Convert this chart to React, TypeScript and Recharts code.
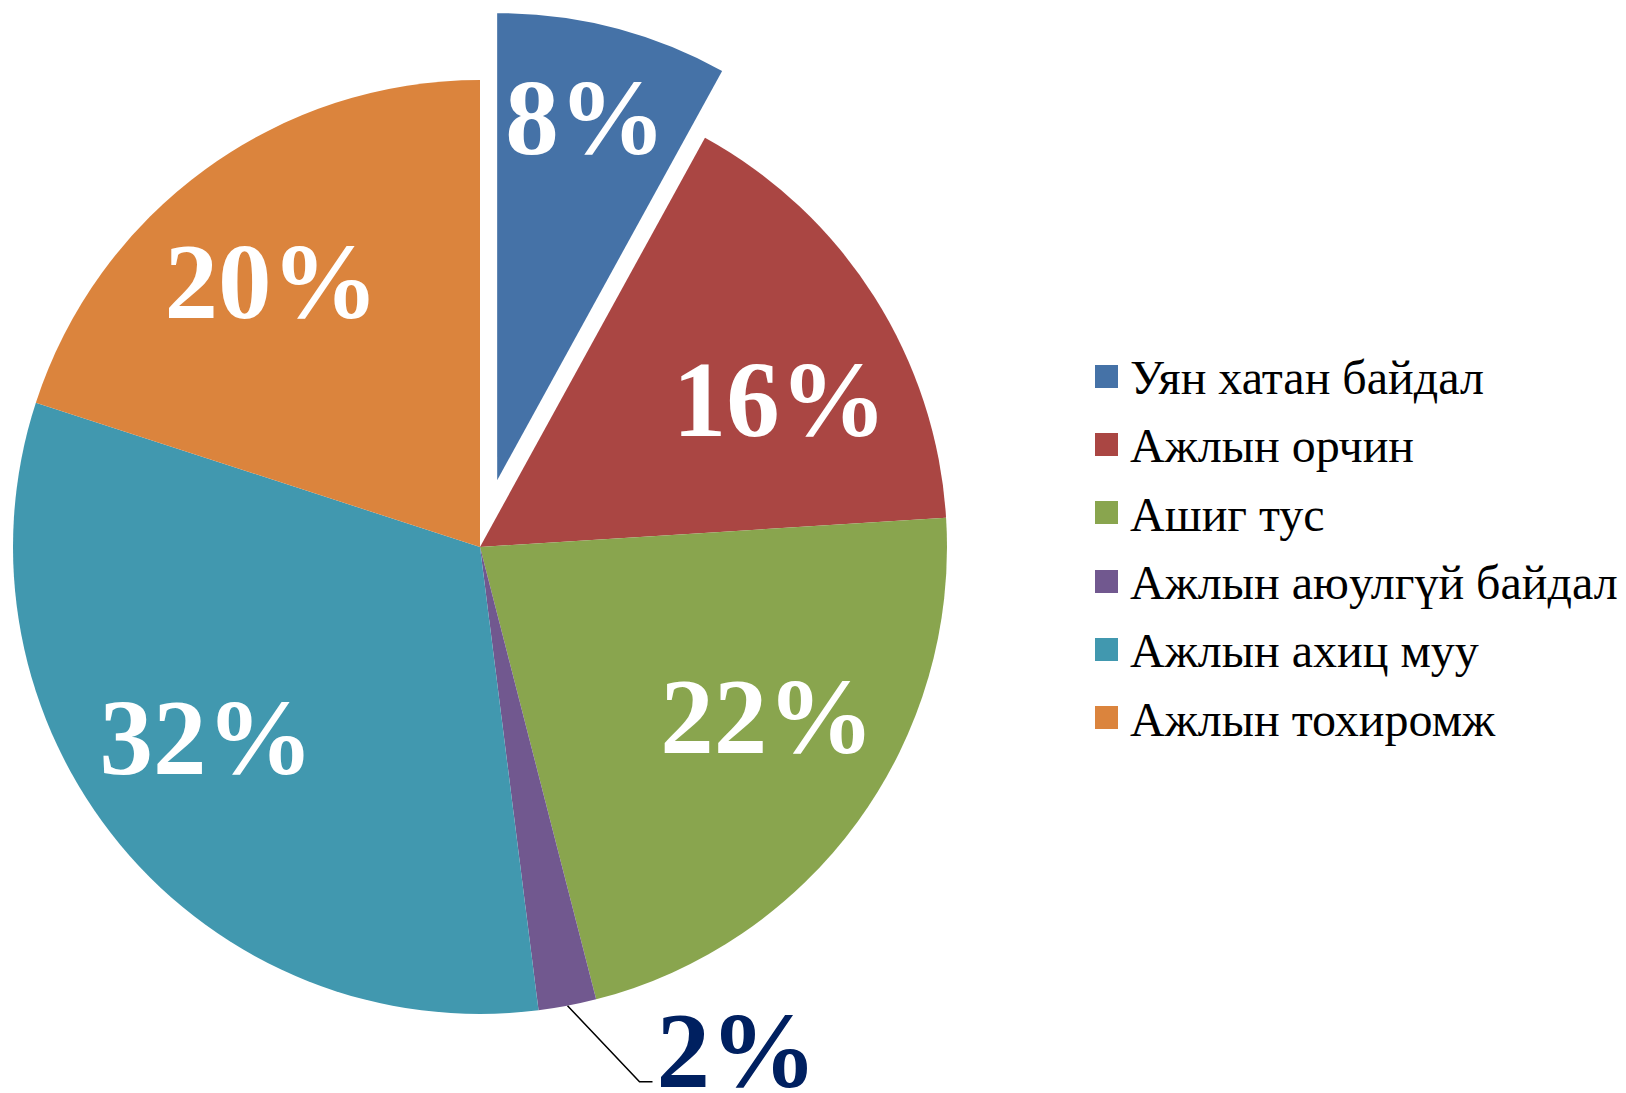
import React from 'react';
import { PieChart, Pie, Cell, Legend } from 'recharts';

const categories = [
  'Уян хатан байдал',
  'Ажлын орчин',
  'Ашиг тус',
  'Ажлын аюулгүй байдал',
  'Ажлын ахиц муу',
  'Ажлын тохиромж',
];
const shares = [8, 16, 22, 2, 32, 20];
const colors = ['#4572A7', '#AA4643', '#89A54E', '#71588F', '#4198AF', '#DB843D'];

const data = categories.map((name, i) => ({ name, value: shares[i] }));

const W = 1626;
const H = 1093;
const CX = 480;
const CY = 547;
const R = 467;
const EXPLODE = 69;
const FONT = "'Liberation Serif', 'Times New Roman', serif";
const RAD = Math.PI / 180;
const LABEL_SIZE = 107;

// the first slice is pulled out along its middle direction
const total = shares.reduce((a, b) => a + b, 0);
const firstMid = ((shares[0] / total) * 360) / 2;
const CX2 = CX + EXPLODE * Math.sin(firstMid * RAD);
const CY2 = CY - EXPLODE * Math.cos(firstMid * RAD);

const renderLabel = (explodedPie: boolean) => (props: any) => {
  const { cx, cy, midAngle, outerRadius, index, value } = props;
  if (explodedPie !== (index === 0)) return null;
  const c = Math.cos(midAngle * RAD);
  const s = Math.sin(midAngle * RAD);

  if (value < 5) {
    // small slice: outside label with leader line
    const ex = cx + outerRadius * c;
    const ey = cy - outerRadius * s;
    return (
      <g>
        <polyline
          points={`${ex},${ey} ${ex + 72},${ey + 76} ${ex + 85},${ey + 76}`}
          fill="none"
          stroke="#000"
          strokeWidth={1.5}
        />
        <text x={ex + 89} y={ey + 81} fill="#002060" fontSize={LABEL_SIZE} fontWeight="bold" fontFamily={FONT} textAnchor="start">
          {`${value}%`}
        </text>
      </g>
    );
  }

  const x = cx + outerRadius * 0.76 * c;
  const yOff = index === 0 ? outerRadius * 0.8 * Math.abs(s) : (0.925 * Math.abs(s) - 0.18) * outerRadius;
  const y = cy - Math.sign(s) * yOff;
  return (
    <text x={x} y={y + 36} fill="#fff" fontSize={LABEL_SIZE} fontWeight="bold" fontFamily={FONT} textAnchor="middle">
      {`${value}%`}
    </text>
  );
};

const LegendBox = () => (
  <div style={{ fontFamily: FONT, fontSize: 48, color: '#000' }}>
    {categories.map((name, i) => (
      <div key={name} style={{ display: 'flex', alignItems: 'center', height: 68.3, whiteSpace: 'nowrap' }}>
        <span style={{ width: 23, height: 23, background: colors[i], display: 'inline-block', marginRight: 12, flexShrink: 0 }} />
        <span style={{ lineHeight: '48px', position: 'relative', top: 2 }}>{name}</span>
      </div>
    ))}
  </div>
);

export default function App() {
  return (
    <div style={{ position: 'absolute', left: 0, top: 0, width: W, height: H, background: '#fff' }}>
      <PieChart width={W} height={H} margin={{ top: 0, right: 0, bottom: 0, left: 0 }}>
        <Pie
          data={data}
          dataKey="value"
          nameKey="name"
          cx={CX}
          cy={CY}
          outerRadius={R}
          startAngle={90}
          endAngle={-270}
          stroke="none"
          label={renderLabel(false)}
          labelLine={false}
          legendType="none"
          isAnimationActive={false}
        >
          {data.map((d, i) => (
            <Cell key={d.name} fill={i === 0 ? 'transparent' : colors[i]} stroke="none" />
          ))}
        </Pie>
        <Pie
          data={data}
          dataKey="value"
          nameKey="name"
          cx={CX2}
          cy={CY2}
          outerRadius={R}
          startAngle={90}
          endAngle={-270}
          stroke="none"
          label={renderLabel(true)}
          labelLine={false}
          legendType="none"
          isAnimationActive={false}
        >
          {data.map((d, i) => (
            <Cell key={d.name} fill={i === 0 ? colors[0] : 'transparent'} stroke="none" />
          ))}
        </Pie>
        <Legend
          content={() => <LegendBox />}
          wrapperStyle={{ position: 'absolute', left: 1095, top: 342, width: 531, height: 420 }}
        />
      </PieChart>
    </div>
  );
}
